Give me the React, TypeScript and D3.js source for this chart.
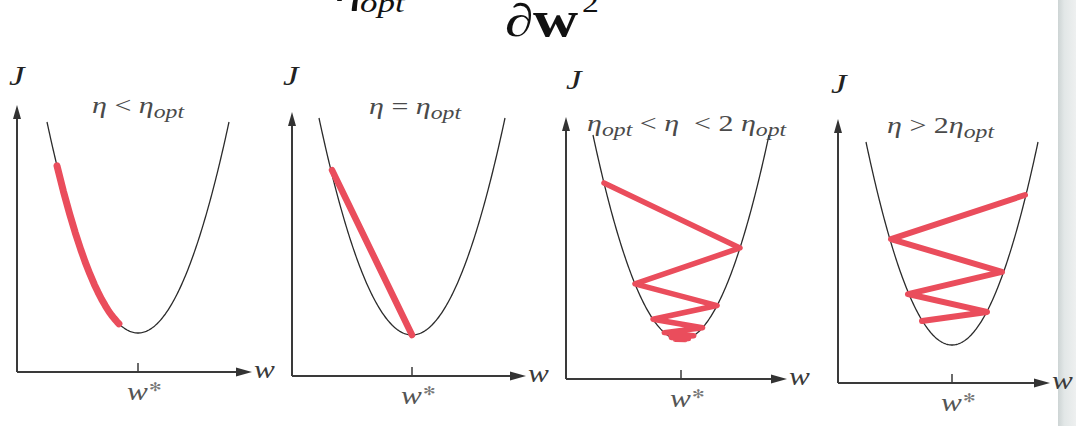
import React from 'react';
import * as d3 from 'd3';

// Cost function J(w) = w^2 plotted over w in [-1, 1]
const curveSamples = d3.range(-1, 1.0001, 0.01);
const cost = (w: number) => w * w;

// Gradient-descent iterates for each learning rate: w values and their J values
const slowW = [-0.89, -0.82, -0.75, -0.69, -0.63, -0.58, -0.53, -0.48, -0.44, -0.4, -0.36, -0.32, -0.29, -0.26, -0.23, -0.21];
const slowJ = [0.792, 0.672, 0.563, 0.476, 0.397, 0.336, 0.281, 0.23, 0.194, 0.16, 0.13, 0.102, 0.084, 0.068, 0.053, 0.044];

const optW = [-0.86, 0];
const optJ = [0.76, 0];

const oscW = [-0.875, 0.67, -0.523, 0.41, -0.318, 0.245, -0.19, 0.145, -0.11, 0.085, -0.065, 0.05];
const oscJ = [0.766, 0.449, 0.274, 0.168, 0.101, 0.06, 0.036, 0.021, 0.012, 0.007, 0.004, 0.0025];

const divW = [-0.349, 0.407, -0.512, 0.581, -0.709, 0.849];
const divJ = [0.118, 0.163, 0.251, 0.36, 0.522, 0.739];

// Panel captions: [text, subscript?]
const captionSlow: [string, boolean][] = [['η', false], [' < ', false], ['η', false], ['opt', true]];
const captionOpt: [string, boolean][] = [['η', false], [' = ', false], ['η', false], ['opt', true]];
const captionOsc: [string, boolean][] = [['η', false], ['opt', true], [' < ', false], ['η', false], ['  < 2 ', false], ['η', false], ['opt', true]];
const captionDiv: [string, boolean][] = [['η', false], [' > 2', false], ['η', false], ['opt', true]];

const yAxisName = 'J';
const xAxisName = 'w';
const optimumName = 'w';
const optimumMark = '✻';

const series = [
  { w: slowW, j: slowJ, caption: captionSlow },
  { w: optW, j: optJ, caption: captionOpt },
  { w: oscW, j: oscJ, caption: captionOsc },
  { w: divW, j: divJ, caption: captionDiv },
];

// Page layout of each small multiple
const layouts = [
  { axisX: 17, axisY: 372, yTop: 105, xTip: 252, cx: 138, half: 91, minY: 333, topY: 122, jX: 9, jY: 85, capX: 92, capY: 113, width: 7 },
  { axisX: 292, axisY: 376, yTop: 112, xTip: 526, cx: 412, half: 93, minY: 335, topY: 118, jX: 283, jY: 85, capX: 369, capY: 114, width: 6.5 },
  { axisX: 566, axisY: 379, yTop: 117, xTip: 787, cx: 681, half: 88, minY: 340, topY: 135, jX: 566, jY: 89, capX: 587, capY: 131, width: 5.5 },
  { axisX: 838, axisY: 383, yTop: 119, xTip: 1050, cx: 952, half: 86, minY: 345, topY: 142, jX: 831, jY: 93, capX: 887, capY: 133, width: 6 },
];

const SERIF = '"Liberation Serif", "Times New Roman", "DejaVu Serif", serif';
const STRETCH = 1.25;
const RED = '#ea4d5c';
const INK = '#2b2b2b';

function Stretched({ x, y, children }: { x: number; y: number; children: React.ReactNode }) {
  return <g transform={`translate(${x},${y}) scale(${STRETCH},1)`}>{children}</g>;
}

function Panel({ idx }: { idx: number }) {
  const L = layouts[idx];
  const S = series[idx];
  const xs = d3.scaleLinear().domain([-1, 1]).range([L.cx - L.half, L.cx + L.half]);
  const ys = d3.scaleLinear().domain([0, 1]).range([L.minY, L.topY]);
  const line = d3
    .line<[number, number]>()
    .x((d) => xs(d[0]))
    .y((d) => ys(d[1]));
  const curve = line(curveSamples.map((w) => [w, cost(w)] as [number, number])) || '';
  const path = line(S.w.map((w, i) => [w, S.j[i]] as [number, number])) || '';
  const wStar = xs(0);

  return (
    <g>
      {/* axes */}
      <line x1={L.axisX} y1={L.axisY} x2={L.axisX} y2={L.yTop + 10} stroke="#3a3a3a" strokeWidth={2} />
      <line x1={L.axisX} y1={L.axisY} x2={L.xTip - 12} y2={L.axisY} stroke="#3a3a3a" strokeWidth={2} />
      <path d={`M${L.axisX},${L.yTop} L${L.axisX - 4},${L.yTop + 14} L${L.axisX + 4},${L.yTop + 14} Z`} fill="#333" />
      <path d={`M${L.xTip},${L.axisY} L${L.xTip - 16},${L.axisY - 4.5} L${L.xTip - 16},${L.axisY + 4.5} Z`} fill="#333" />
      <line x1={wStar} x2={wStar} y1={L.axisY - 9} y2={L.axisY} stroke="#3a3a3a" strokeWidth={1.5} />

      {/* cost curve and descent path */}
      <path d={curve} fill="none" stroke={INK} strokeWidth={1.3} />
      <path d={path} fill="none" stroke={RED} strokeWidth={L.width} strokeLinejoin="round" strokeLinecap="round" />

      {/* texts */}
      <Stretched x={L.jX} y={L.jY}>
        <text fontFamily={SERIF} fontStyle="italic" fontSize={28} fill="#222">{yAxisName}</text>
      </Stretched>
      <Stretched x={L.xTip + 2} y={L.axisY + 6}>
        <text fontFamily={SERIF} fontStyle="italic" fontSize={25} fill="#3a3a3a">{xAxisName}</text>
      </Stretched>
      <Stretched x={wStar - 11} y={L.axisY + 28}>
        <text fontFamily={SERIF} fontStyle="italic" fontSize={25} fill="#555">
          {optimumName}
          <tspan fontFamily='"DejaVu Sans", sans-serif' fontSize={12} fontStyle="normal" fill="#777" dy={-9} dx={1}>
            {optimumMark}
          </tspan>
        </text>
      </Stretched>
      <Stretched x={L.capX} y={L.capY}>
        <text fontFamily={SERIF} fontStyle="italic" fontSize={24} fill="#4a4a4a" style={{ whiteSpace: 'pre' }}>
          {S.caption.map(([t, sub], k) => {
            const prevSub = k > 0 && S.caption[k - 1][1];
            const dy = sub && !prevSub ? 5 : !sub && prevSub ? -5 : 0;
            return (
              <tspan key={k} dy={dy} fontSize={sub ? 19 : 24} fontStyle={t.trim() === '' || /[<>=2]/.test(t) ? 'normal' : 'italic'}>
                {t}
              </tspan>
            );
          })}
        </text>
      </Stretched>
    </g>
  );
}

export default function App() {
  return (
    <svg
      width={1076}
      height={426}
      viewBox="0 0 1076 426"
      style={{ position: 'absolute', left: 0, top: 0, background: '#fff' }}
    >
      <defs>
        <linearGradient id="pageEdge" x1="0" x2="1" y1="0" y2="0">
          <stop offset="0" stopColor="#cdd4d4" />
          <stop offset="0.35" stopColor="#e2e7e7" />
          <stop offset="1" stopColor="#eef0f0" />
        </linearGradient>
      </defs>
      <rect x={0} y={0} width={1076} height={426} fill="#fff" />
      <rect x={1058} y={0} width={18} height={426} fill="url(#pageEdge)" />

      {/* lower part of the step-size formula above the figure */}
      <g fill="#111" fontFamily={SERIF}>
        <Stretched x={335} y={1}>
          <text fontStyle="italic" fontSize={46}>η</text>
        </Stretched>
        <Stretched x={360} y={12}>
          <text fontStyle="italic" fontSize={28}>opt</text>
        </Stretched>
        <Stretched x={505} y={36}>
          <text fontSize={46}>∂</text>
        </Stretched>
        <Stretched x={533} y={36}>
          <text fontWeight="bold" fontSize={50}>w</text>
        </Stretched>
        <Stretched x={582} y={12}>
          <text fontSize={27}>2</text>
        </Stretched>
      </g>

      {layouts.map((_, i) => (
        <Panel key={i} idx={i} />
      ))}
    </svg>
  );
}
